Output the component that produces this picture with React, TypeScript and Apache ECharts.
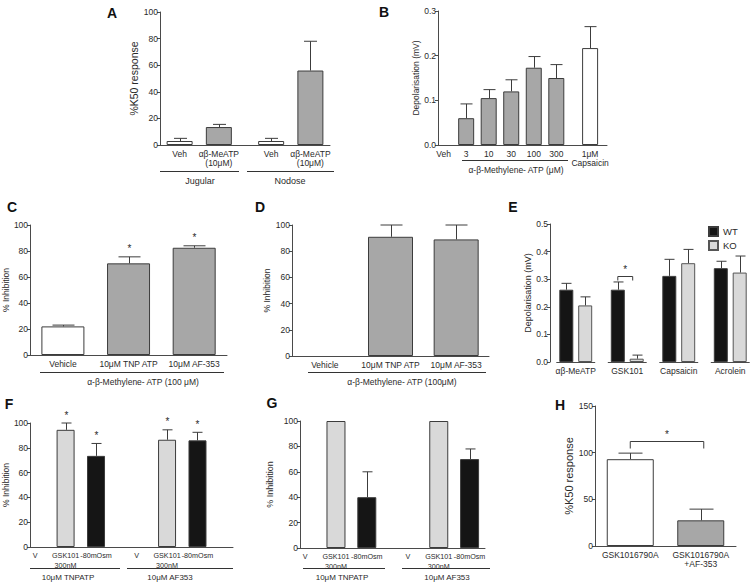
import React, { useEffect, useRef } from "react";
import * as echarts from "echarts";

const FONT = "'Liberation Sans', Arial, Helvetica, sans-serif";
const INK = "#2a2a2a";
const AXIS = "#4a4a4a";
const EDGE = "#3c3c3c";
const WHITE = "#ffffff";
const GRAY = "#a7a7a7";
const LIGHT = "#d9d9d9";
const BLACK = "#151515";

// ---------- Panel A ----------
const aLabels = ["Veh", "αβ-MeATP\n(10μM)", "Veh", "αβ-MeATP\n(10μM)"];
const aValues = [3, 13.5, 3, 56];
const aErrors = [2, 2, 2, 22];
const aGroups = ["Jugular", "Nodose"];

// ---------- Panel B ----------
const bLabels = ["Veh", "3", "10", "30", "100", "300", "1μM\nCapsaicin"];
const bValues = [0, 0.06, 0.105, 0.12, 0.173, 0.15, 0.217];
const bErrors = [0, 0.032, 0.019, 0.026, 0.025, 0.03, 0.048];
const bGroup = "α-β-Methylene- ATP (μM)";

// ---------- Panel C ----------
const cLabels = ["Vehicle", "10μM TNP ATP", "10μM AF-353"];
const cValues = [22, 70.5, 82.5];
const cErrors = [1, 5, 1.5];
const cStars = [0, 1, 1];
const cGroup = "α-β-Methylene- ATP (100 μM)";

// ---------- Panel D ----------
const dLabels = ["Vehicle", "10μM TNP ATP", "10μM AF-353"];
const dValues = [0, 91, 89];
const dErrors = [0, 9, 11];
const dGroup = "α-β-Methylene- ATP (100μM)";

// ---------- Panel E ----------
const eLabels = ["αβ-MeATP", "GSK101", "Capsaicin", "Acrolein"];
const eWT = [0.262, 0.262, 0.312, 0.34];
const eWTErr = [0.023, 0.028, 0.06, 0.025];
const eKO = [0.205, 0.012, 0.358, 0.324];
const eKOErr = [0.031, 0.013, 0.05, 0.06];
const eSeriesNames = ["WT", "KO"];

// ---------- Panel F ----------
const fLabels = ["V", "GSK101\n300nM", "-80mOsm", "V", "GSK101\n300nM", "-80mOsm"];
const fValues = [0, 94.5, 73.5, 0, 86.5, 86];
const fErrors = [0, 5.5, 10, 0, 8, 6.5];
const fStars = [0, 1, 1, 0, 1, 1];
const fGroups = ["10μM TNPATP", "10μM AF353"];

// ---------- Panel G ----------
const gLabels = ["V", "GSK101\n300nM", "-80mOsm", "V", "GSK101\n300nM", "-80mOsm"];
const gValues = [0, 100, 40, 0, 100, 70];
const gErrors = [0, 0, 20, 0, 0, 8];
const gGroups = ["10μM TNPATP", "10μM AF353"];

// ---------- Panel H ----------
const hLabels = ["GSK1016790A", "GSK1016790A\n+AF-353"];
const hValues = [93, 27.5];
const hErrors = [6.5, 12];

// ---------- layout (slot positions on category axes) ----------
const A_SLOTS = [1, 4, 8, 11];
const A_TOTAL = 13;
const B_SLOTS = [0, 2, 4, 6, 8, 10, 13];
const B_TOTAL = 15;
const FG_SLOTS = [0, 3, 6, 10, 13, 16];
const F_TOTAL = 20;
const G_TOTAL = 18;
const SEQ3 = [0, 1, 2];
const SEQ2 = [0, 1];
const SEQ4 = [0, 1, 2, 3];

const aFill = [WHITE, GRAY, WHITE, GRAY];
const bFill = [GRAY, GRAY, GRAY, GRAY, GRAY, GRAY, WHITE];
const cFill = [WHITE, GRAY, GRAY];
const dFill = [GRAY, GRAY, GRAY];
const fgFill = [LIGHT, LIGHT, BLACK, LIGHT, LIGHT, BLACK];
const hFill = [WHITE, GRAY];

function padCats(labels: string[], slots: number[], total: number) {
  const arr: string[] = new Array(total).fill("");
  slots.forEach((s, i) => (arr[s] = labels[i]));
  return arr;
}

function padBars(values: number[], slots: number[], total: number, fills: string[]) {
  const arr: any[] = new Array(total).fill("-");
  slots.forEach((s, i) => {
    arr[s] = {
      value: values[i],
      itemStyle: { color: fills[i], borderColor: EDGE, borderWidth: values[i] === 0 ? 0 : 1 },
    };
  });
  return arr;
}

function errItems(values: number[], errors: number[], slots: number[], stars?: number[]) {
  return slots.map((s, i) => [s, values[i], errors[i], stars ? stars[i] : 0]);
}

function errorSeries(gi: number, items: any[], capHalf: number, offset = 0) {
  return {
    type: "custom",
    xAxisIndex: gi,
    yAxisIndex: gi,
    z: 10,
    silent: true,
    data: items,
    renderItem: (_p: any, api: any) => {
      const x = api.value(0);
      const v = api.value(1);
      const e = api.value(2);
      const s = api.value(3);
      const base = api.coord([x, v]);
      const top = api.coord([x, v + e]);
      const cx = Math.round(base[0] + offset) + 0.5;
      const children: any[] = [];
      if (e > 0) {
        children.push({
          type: "line",
          shape: { x1: cx, y1: base[1], x2: cx, y2: top[1] },
          style: { stroke: EDGE, lineWidth: 1 },
        });
        children.push({
          type: "line",
          shape: { x1: cx - capHalf, y1: top[1], x2: cx + capHalf, y2: top[1] },
          style: { stroke: EDGE, lineWidth: 1 },
        });
      }
      if (s) {
        children.push({
          type: "text",
          style: {
            text: "*",
            x: cx,
            y: top[1] - 3,
            align: "center",
            verticalAlign: "bottom",
            textAlign: "center",
            textVerticalAlign: "bottom",
            fill: INK,
            fontSize: 10,
            fontFamily: FONT,
          },
        });
      }
      return { type: "group", children };
    },
  };
}

// short baseline segment under each category (segmented x axis of panel E)
function segmentSeries(gi: number, cats: number[], half: number) {
  return {
    type: "custom",
    xAxisIndex: gi,
    yAxisIndex: gi,
    z: 11,
    silent: true,
    data: cats.map((c) => [c, 0]),
    renderItem: (_p: any, api: any) => {
      const p = api.coord([api.value(0), api.value(1)]);
      const y = Math.round(p[1]) + 0.5;
      return {
        type: "line",
        shape: { x1: p[0] - half, y1: y, x2: p[0] + half, y2: y },
        style: { stroke: AXIS, lineWidth: 1 },
      };
    },
  };
}

function bracketSeries(gi: number, item: number[], offL: number, offR: number, tick: number) {
  return {
    type: "custom",
    xAxisIndex: gi,
    yAxisIndex: gi,
    z: 10,
    silent: true,
    data: [item],
    renderItem: (_p: any, api: any) => {
      const p1 = api.coord([api.value(0), api.value(2)]);
      const p2 = api.coord([api.value(1), api.value(2)]);
      const xl = p1[0] + offL;
      const xr = p2[0] + offR;
      const y = Math.round(p1[1]) + 0.5;
      return {
        type: "group",
        children: [
          {
            type: "polyline",
            shape: { points: [[xl, y + tick], [xl, y], [xr, y], [xr, y + tick]] },
            style: { stroke: EDGE, lineWidth: 1, fill: "none" },
          },
          {
            type: "text",
            style: {
              text: "*",
              x: (xl + xr) / 2,
              y: y - 2,
              align: "center",
              verticalAlign: "bottom",
              textAlign: "center",
              textVerticalAlign: "bottom",
              fill: INK,
              fontSize: 10,
              fontFamily: FONT,
            },
          },
        ],
      };
    },
  };
}

function xAxis(gi: number, data: string[], extra: any = {}, labelSize = 8.5) {
  return {
    type: "category",
    gridIndex: gi,
    data,
    axisLine: { lineStyle: { color: AXIS, width: 1 } },
    axisTick: { show: false },
    axisLabel: {
      interval: 0,
      fontSize: labelSize,
      color: INK,
      fontFamily: FONT,
      margin: 4,
      lineHeight: 9.5,
    },
    ...extra,
  };
}

function yAxis(gi: number, max: number, interval: number, name: string, nameGap: number, nameSize: number, decimals = 0) {
  return {
    type: "value",
    gridIndex: gi,
    min: 0,
    max,
    interval,
    name,
    nameLocation: "middle",
    nameRotate: 90,
    nameGap,
    nameTextStyle: { fontSize: nameSize, color: INK, fontFamily: FONT },
    axisLine: { show: true, lineStyle: { color: AXIS, width: 1 } },
    axisTick: { show: true, length: 3, lineStyle: { color: AXIS } },
    splitLine: { show: false },
    axisLabel: {
      fontSize: 8.5,
      color: INK,
      fontFamily: FONT,
      margin: 2,
      formatter: (v: number) => (decimals ? v.toFixed(decimals) : String(v)),
    },
  };
}

function barSeries(gi: number, data: any[], width: number, extra: any = {}) {
  return {
    type: "bar",
    xAxisIndex: gi,
    yAxisIndex: gi,
    data,
    barWidth: width,
    silent: true,
    ...extra,
  };
}

function letter(t: string, x: number, y: number) {
  return {
    type: "text",
    x,
    y,
    style: {
      text: t,
      fill: "#111",
      font: `bold 14px ${FONT}`,
      align: "center",
      verticalAlign: "middle",
      textAlign: "center",
      textVerticalAlign: "middle",
    },
  };
}

function gText(t: string, x: number, y: number, size = 9) {
  return {
    type: "text",
    x,
    y,
    style: {
      text: t,
      fill: INK,
      font: `${size}px ${FONT}`,
      align: "center",
      verticalAlign: "middle",
      textAlign: "center",
      textVerticalAlign: "middle",
    },
  };
}

function gLine(x1: number, x2: number, y: number) {
  return {
    type: "line",
    shape: { x1, y1: y, x2, y2: y },
    style: { stroke: "#333", lineWidth: 1 },
  };
}

export default function App() {
  const ref = useRef<HTMLDivElement>(null);

  useEffect(() => {
    if (!ref.current) return;
    const chart = echarts.init(ref.current, null, { renderer: "svg" });

    const E_BW = 14;
    const E_GAP = 0.35;
    const eOff = (E_BW + E_BW * E_GAP) / 2;

    const option: any = {
      animation: false,
      backgroundColor: "#ffffff",
      textStyle: { fontFamily: FONT },
      grid: [
        { left: 160, top: 12, width: 170, height: 133 },
        { left: 438, top: 11, width: 169, height: 134 },
        { left: 30, top: 225, width: 197, height: 130 },
        { left: 292, top: 225, width: 197, height: 131 },
        { left: 550, top: 224, width: 206, height: 138 },
        { left: 29, top: 423, width: 204, height: 124 },
        { left: 300, top: 421, width: 185, height: 127 },
        { left: 595, top: 406, width: 141, height: 140 },
      ],
      legend: {
        data: eSeriesNames,
        left: 708,
        top: 226,
        orient: "vertical",
        itemWidth: 9,
        itemHeight: 9,
        itemGap: 3,
        icon: "rect",
        padding: 0,
        selectedMode: false,
        textStyle: { fontSize: 9.5, color: INK, fontFamily: FONT },
      },
      xAxis: [
        xAxis(0, padCats(aLabels, A_SLOTS, A_TOTAL)),
        xAxis(1, padCats(bLabels, B_SLOTS, B_TOTAL)),
        xAxis(2, cLabels),
        xAxis(3, dLabels),
        xAxis(4, eLabels, { axisLine: { show: false } }),
        xAxis(5, padCats(fLabels, FG_SLOTS, F_TOTAL), {}, 7.2),
        xAxis(6, padCats(gLabels, FG_SLOTS, G_TOTAL), {}, 7.2),
        xAxis(7, hLabels),
      ],
      yAxis: [
        yAxis(0, 100, 20, "%K50 response", 17, 10.5),
        yAxis(1, 0.3, 0.1, "Depolarisation (mV)", 18, 8.5, 1),
        yAxis(2, 100, 20, "% Inhibition", 19, 8.5),
        yAxis(3, 100, 20, "% Inhibition", 20, 8.5),
        yAxis(4, 0.5, 0.1, "Depolarisation (mV)", 16, 9, 1),
        yAxis(5, 100, 20, "% Inhibition", 18, 8.5),
        yAxis(6, 100, 20, "% Inhibition", 26, 9),
        yAxis(7, 150, 50, "%K50 response", 19, 11),
      ],
      series: [
        // A
        barSeries(0, padBars(aValues, A_SLOTS, A_TOTAL, aFill), 26),
        errorSeries(0, errItems(aValues, aErrors, A_SLOTS), 6.5),
        // B
        barSeries(1, padBars(bValues, B_SLOTS, B_TOTAL, bFill), 16),
        errorSeries(1, errItems(bValues, bErrors, B_SLOTS), 6),
        // C
        barSeries(2, padBars(cValues, SEQ3, 3, cFill), 43),
        errorSeries(2, errItems(cValues, cErrors, SEQ3, cStars), 11),
        // D
        barSeries(3, padBars(dValues, SEQ3, 3, dFill), 45),
        errorSeries(3, errItems(dValues, dErrors, SEQ3), 11),
        // E
        barSeries(4, eWT, E_BW, {
          name: eSeriesNames[0],
          barGap: "35%",
          itemStyle: { color: BLACK, borderColor: EDGE, borderWidth: 1 },
        }),
        barSeries(4, eKO, E_BW, {
          name: eSeriesNames[1],
          barGap: "35%",
          itemStyle: { color: LIGHT, borderColor: "#555", borderWidth: 1 },
        }),
        errorSeries(4, errItems(eWT, eWTErr, SEQ4), 5, -eOff),
        errorSeries(4, errItems(eKO, eKOErr, SEQ4), 5, eOff),
        segmentSeries(4, SEQ4, eOff + E_BW / 2 + 3),
        bracketSeries(4, [1, 1, 0.31], -eOff, eOff - 4, 4),
        // F
        barSeries(5, padBars(fValues, FG_SLOTS, F_TOTAL, fgFill), 18),
        errorSeries(5, errItems(fValues, fErrors, FG_SLOTS, fStars), 5),
        // G
        barSeries(6, padBars(gValues, FG_SLOTS, G_TOTAL, fgFill), 19),
        errorSeries(6, errItems(gValues, gErrors, FG_SLOTS), 5),
        // H
        barSeries(7, padBars(hValues, SEQ2, 2, hFill), 47),
        errorSeries(7, errItems(hValues, hErrors, SEQ2), 12),
        bracketSeries(7, [0, 1, 112], 0, 3, 7),
      ],
      graphic: [
        letter("A", 112, 13),
        letter("B", 384, 12),
        letter("C", 12, 207),
        letter("D", 260, 207),
        letter("E", 513, 207),
        letter("F", 9, 404),
        letter("G", 272, 403),
        letter("H", 560, 405),
        // A groups
        gLine(160, 239, 171.5),
        gLine(247, 334, 171.5),
        gText(aGroups[0], 200, 180.5),
        gText(aGroups[1], 290, 180.5),
        // B group
        gLine(462, 568, 160.5),
        gText(bGroup, 516, 170, 8.5),
        // C group
        gLine(40, 224, 372.5),
        gText(cGroup, 143, 382, 8.5),
        // D group
        gLine(308, 486, 372.5),
        gText(dGroup, 402, 382, 8.5),
        // F groups
        gLine(30, 120, 568.5),
        gLine(127, 233, 568.5),
        gText(fGroups[0], 68, 577, 8),
        gText(fGroups[1], 170, 577, 8),
        // G groups
        gLine(303, 385, 568.5),
        gLine(402, 490, 568.5),
        gText(gGroups[0], 342, 577, 8),
        gText(gGroups[1], 447, 577, 8),
      ],
    };

    chart.setOption(option);
    return () => chart.dispose();
  }, []);

  return (
    <div
      ref={ref}
      style={{ position: "fixed", left: 0, top: 0, width: 756, height: 583, background: "#fff" }}
    />
  );
}
